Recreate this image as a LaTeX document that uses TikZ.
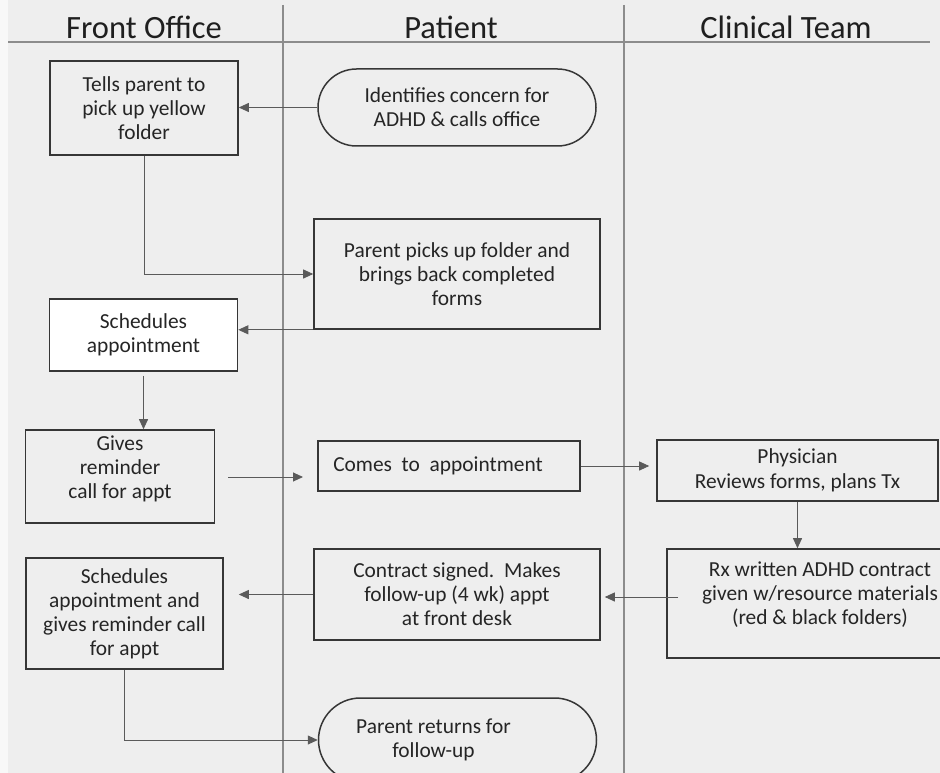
\documentclass[tikz,border=0pt]{standalone}
\usepackage{fontspec}
\setmainfont{Carlito}
\usetikzlibrary{arrows.meta,shapes.misc,calc}

\definecolor{pagebg}{HTML}{EEEEEE}
\definecolor{marginbg}{HTML}{F8F8F8}
\definecolor{laneline}{HTML}{8C8C8C}
\definecolor{boxline}{HTML}{363636}
\definecolor{inkgray}{HTML}{252525}
\definecolor{flowline}{HTML}{5A5A5A}

% centred lines, drawn a little off the box centre
\newcommand{\liftlines}[2]{\raisebox{#1}[\height][\depth]{\begin{tabular}{@{}c@{}}#2\end{tabular}}}

\begin{document}
\begin{tikzpicture}[x=1pt, y=-1pt,
  font=\fontsize{21.4}{24}\selectfont, text=inkgray,
  process/.style={draw=boxline, line width=1.6pt, fill=pagebg, rectangle,
                  align=center, inner sep=0pt},
  terminal/.style={draw=boxline, line width=1.5pt, fill=pagebg, rounded rectangle,
                   align=center, inner sep=0pt},
  flow/.style={draw=flowline, line width=0.9pt, -{Triangle[length=10pt,width=9pt]}},
  lane/.style={draw=laneline, line width=1.2pt},
  lanehead/.style={font=\fontsize{32.5}{36}\selectfont, anchor=base, text=black!88}]

\useasboundingbox (0,0) rectangle (940,773);
\clip (0,0) rectangle (940,773);

% page
\fill[marginbg] (0,0) rectangle (940,773);
\fill[pagebg] (8,0) rectangle (940,773);

% swimlanes
\draw[lane] (283,5) -- (283,773);
\draw[lane] (624,5) -- (624,773);
\draw[lane] (8,42) -- (930,42);
\node[lanehead] (hfront) at (144,39) {Front Office};
\node[lanehead] (hpat) at (451,39) {Patient};
\node[lanehead] (hclin) at (786,39) {Clinical Team};

% steps
\node[process, minimum width=188pt, minimum height=94pt] (tell) at (144,108)
  {\liftlines{-3pt}{Tells parent to\\pick up yellow\\folder}};
\node[terminal, minimum width=278pt, minimum height=77pt] (ident) at (457,107.5)
  {Identifies concern for\\ADHD \& calls office};
\node[process, minimum width=286pt, minimum height=110pt] (picks) at (457,274)
  {Parent picks up folder and\\brings back completed\\forms};
\node[process, fill=white, minimum width=188pt, minimum height=72pt] (sched) at (143.5,335)
  {Schedules\\appointment};
\node[process, minimum width=189pt, minimum height=93pt] (remind) at (120,476.5)
  {\liftlines{6.5pt}{Gives\\reminder\\call for appt}};
\node[process, minimum width=262pt, minimum height=50pt] (comes) at (449,466)
  {Comes\ \ to\ \ appointment\hspace*{22pt}};
\node[process, minimum width=281pt, minimum height=61pt] (phys) at (797.5,470.5)
  {Physician\\[1pt]Reviews forms, plans Tx};
\node[process, minimum width=306pt, minimum height=109pt] (rx) at (820,603.5)
  {\liftlines{7.5pt}{Rx written ADHD contract\\given w/resource materials\\(red \& black folders)}};
\node[process, minimum width=286pt, minimum height=91pt] (contract) at (457,594.5)
  {Contract signed.\ \ Makes\\follow-up (4 wk) appt\\at front desk};
\node[process, minimum width=197pt, minimum height=111pt] (resched) at (124.5,613.5)
  {Schedules\\appointment and\\gives reminder call\\for appt};
\node[terminal, minimum width=278pt, minimum height=84pt] (returns) at (457.5,740)
  {\hspace*{-48pt}Parent returns for\\\hspace*{-48pt}follow-up};

% free ends of connectors
\coordinate (g1) at (228,477);
\coordinate (g2) at (303,477);
\coordinate (r1) at (678,597);

% flow
\draw[flow] (ident.west) -- (ident.west -| tell.east);
\draw[flow] (tell.south) |- (picks.west);
\draw[flow] (picks.south west) -- (picks.south west -| sched.east);
\draw[flow] ([yshift=-4pt]sched.south) -- (sched.south |- remind.north);
\draw[flow] (g1) -- (g2);
\draw[flow, shorten >=7pt] (comes.east) -- (comes.east -| phys.west);
\draw[flow] (phys.south) -- (phys.south |- rx.north);
\draw[flow, shorten >=4pt] (r1) -- (r1 -| contract.east);
\draw[flow, shorten >=15pt] (contract.west) -- (contract.west -| resched.east);
\draw[flow] (resched.south) |- (returns.west);

\end{tikzpicture}
\end{document}
